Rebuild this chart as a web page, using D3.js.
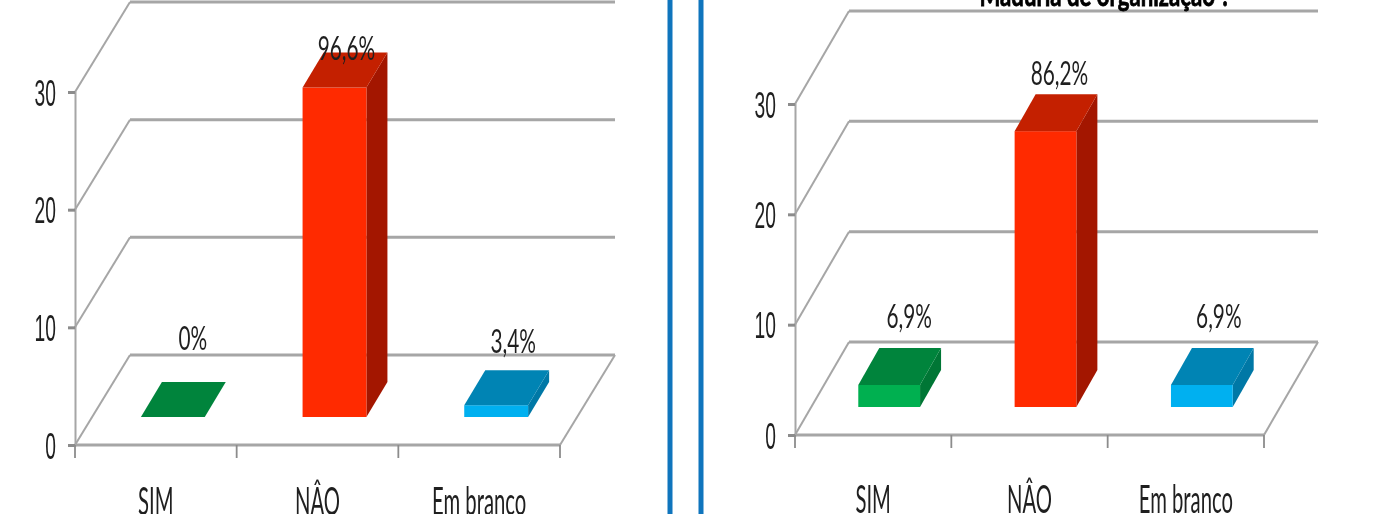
<!DOCTYPE html>
<html lang="en">

<head>
  <meta charset="UTF-8">
  <title>SIM / NÂO / Em branco</title>
  <script src="https://d3js.org/d3.v7.min.js"></script>
  <style>
    html,
    body {
      margin: 0;
      height: 100%;
      background-color: #fff;
      overflow: hidden;
    }

    svg {
      display: block;
      font-family: Lato, "Open Sans", sans-serif;
      filter: blur(0.45px);
    }
  </style>
</head>

<body>
  <svg id="chart" width="1376" height="514"></svg>

  <script>
    const categories = ["SIM", "NÂO", "Em branco"];
    const yTicks = [0, 10, 20, 30];

    const leftValues = [0, 28, 1];
    const leftLabels = ["0%", "96,6%", "3,4%"];
    const rightValues = [2, 25, 2];
    const rightLabels = ["6,9%", "86,2%", "6,9%"];

    const frontColors = ["#00b050", "#ff2a00", "#00b0f0"];
    const topColors = ["#00843c", "#c42000", "#0084b4"];
    const sideColors = ["#007635", "#a31600", "#0078a6"];

    const svg = d3.select("#chart");
    const grey = "#a6a6a6";
    const ink = "#1f1f1f";

    // one panel = front plane + floor/back plane shifted by (depthX, depthY)
    function drawPanel(cfg, values, labels) {
      const y = d3.scaleLinear().domain([0, 30]).range([cfg.y0, cfg.y30]);
      const x = d3.scaleBand().domain(categories).range([cfg.x0, cfg.x1]);
      const barW = x.bandwidth() * 0.395;
      const barOff = (x.bandwidth() - barW) / 2 + cfg.barShift;
      const g = svg.append("g");

      // back wall lines and the diagonals to the front axis
      yTicks.forEach(t => {
        const bx = cfg.x0 + cfg.depthX;
        const by = y(t) - cfg.depthY;
        g.append("path")
          .attr("d", d3.line()([[cfg.x0, y(t)], [bx, by]]))
          .attr("fill", "none")
          .attr("stroke", grey)
          .attr("stroke-width", 2);
        g.append("path")
          .attr("d", d3.line()([[bx, by], [cfg.x1 + cfg.depthX, by]]))
          .attr("fill", "none")
          .attr("stroke", grey)
          .attr("stroke-width", 3);
      });

      // floor right edge and front edge
      g.append("path")
        .attr("d", d3.line()([[cfg.x1 + cfg.depthX, y(0) - cfg.depthY], [cfg.x1, y(0)]]))
        .attr("fill", "none")
        .attr("stroke", grey)
        .attr("stroke-width", 2);
      g.append("path")
        .attr("d", d3.line()([[cfg.x1, y(0)], [cfg.x0, y(0)]]))
        .attr("fill", "none")
        .attr("stroke", grey)
        .attr("stroke-width", 3);

      // y axis
      const yAxis = d3.axisLeft(y).tickValues(yTicks).tickSize(7);
      const ya = g.append("g").attr("transform", `translate(${cfg.x0},0)`).call(yAxis);
      ya.select(".domain").attr("stroke", grey).attr("stroke-width", 2);
      ya.selectAll("line").attr("stroke", "#8c8c8c").attr("stroke-width", 3);
      ya.selectAll("text")
        .attr("x", 0)
        .attr("dy", "0.36em")
        .attr("fill", ink)
        .attr("transform", "translate(-19,0) scale(0.52,1)")
        .style("font-size", "37px");

      // x ticks
      const edges = d3.range(categories.length + 1).map(i => cfg.x0 + i * x.step());
      g.selectAll(".xtick").data(edges).enter().append("line")
        .attr("x1", d => d).attr("x2", d => d)
        .attr("y1", y(0)).attr("y2", y(0) + 13)
        .attr("stroke", "#8c8c8c").attr("stroke-width", 1.8);

      // bars
      categories.forEach((c, i) => {
        const left = x(c) + barOff;
        const right = left + barW;
        const base = cfg.barBase;
        const top = base - (y(0) - y(values[i]));
        const dx = cfg.barDX;
        const dy = cfg.barDY;

        if (values[i] > 0) {
          g.append("path")
            .attr("d", d3.line()([[right, top], [right + dx, top - dy], [right + dx, base - dy], [right, base]]))
            .attr("fill", sideColors[i]);
          g.append("rect")
            .attr("x", left).attr("y", top)
            .attr("width", barW).attr("height", base - top)
            .attr("fill", frontColors[i]);
        }
        g.append("path")
          .attr("d", d3.line()([[left, top], [left + dx, top - dy], [right + dx, top - dy], [right, top]]))
          .attr("fill", topColors[i]);

        // value labels
        g.append("text")
          .attr("transform", `translate(${left + barW / 2 + cfg.labelDX[i]},${top - dy + cfg.labelDY[i]}) scale(0.65,1)`)
          .attr("text-anchor", "middle")
          .attr("fill", ink)
          .style("font-size", "32px")
          .text(labels[i]);

        // category labels
        g.append("text")
          .attr("transform", `translate(${x(c) + x.bandwidth() / 2},${cfg.catY}) scale(0.52,1)`)
          .attr("text-anchor", "middle")
          .attr("fill", ink)
          .style("font-size", "39px")
          .text(c);
      });
    }

    drawPanel({
      x0: 75, x1: 560, y0: 445, y30: 92,
      depthX: 55, depthY: 90, barBase: 417, barDX: 21, barDY: 35, barShift: 17,
      labelDX: [20, 12, 17], labelDY: [-32, 7, -17], catY: 515
    }, leftValues, leftLabels);

    drawPanel({
      x0: 795, x1: 1264, y0: 435, y30: 104,
      depthX: 54, depthY: 93, barBase: 407, barDX: 21, barDY: 37, barShift: 16,
      labelDX: [20, 14, 17], labelDY: [-20, -9, -20], catY: 513
    }, rightValues, rightLabels);

    // clipped title of the right chart
    svg.append("text")
      .attr("transform", "translate(1105,6) scale(0.74,1)")
      .attr("text-anchor", "middle")
      .attr("fill", "#000")
      .attr("stroke", "#000")
      .attr("stroke-width", 0.8)
      .style("font-size", "30px")
      .style("font-weight", "bold")
      .text("Maduria de organização ?");

    // blue panel borders
    [670, 701].forEach(px => {
      svg.append("rect")
        .attr("x", px - 2.5).attr("y", 0)
        .attr("width", 5).attr("height", 514)
        .attr("fill", "#0f75bd");
    });
  </script>
</body>

</html>
